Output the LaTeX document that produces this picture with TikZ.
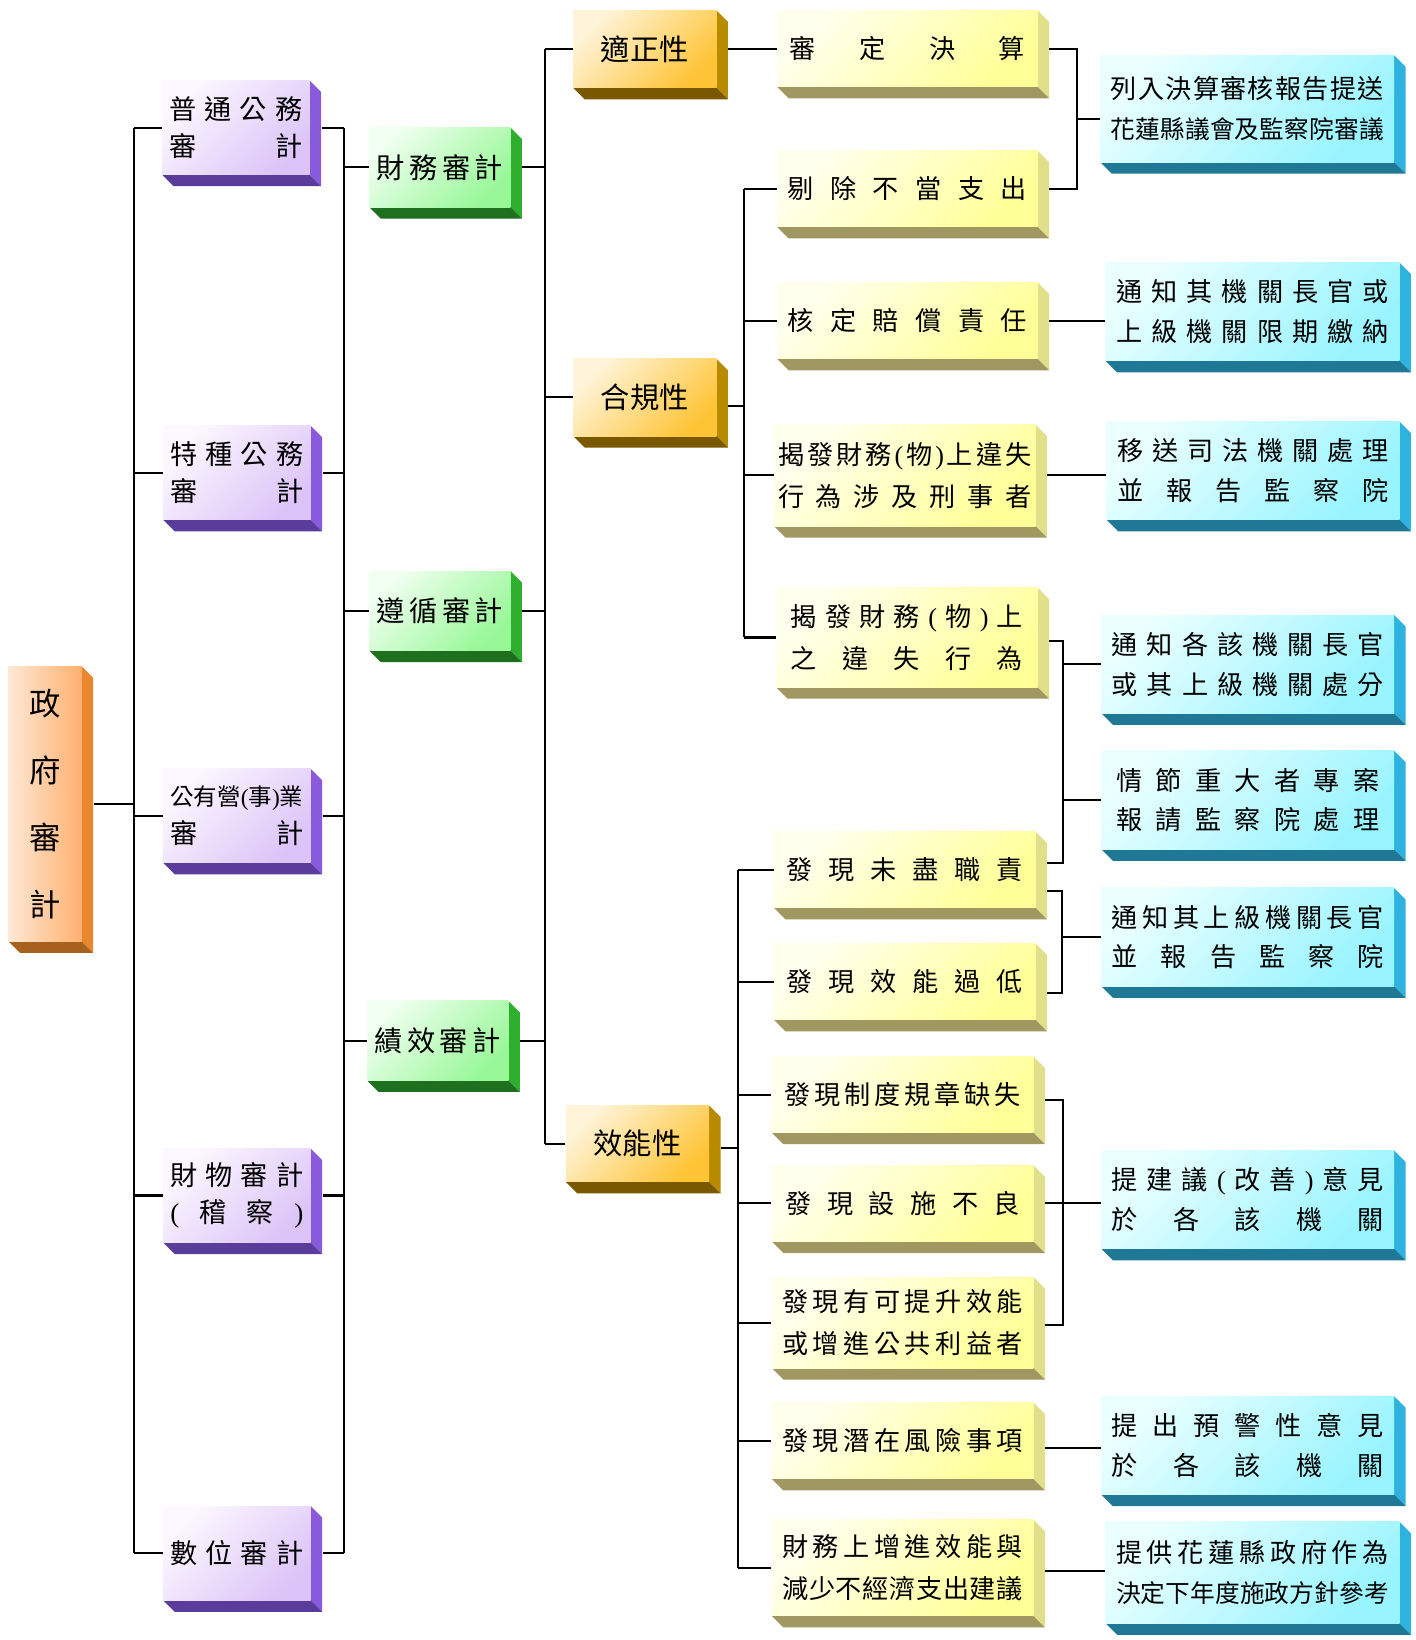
\documentclass[tikz,border=0pt]{standalone}
\usepackage{fontspec}
\setmainfont{Noto Sans CJK TC}
\newfontfamily\pfont{Liberation Serif}
\usetikzlibrary{calc}
\newlength\tw
\newlength\bw
\newlength\bh
\def\spr#1{\sprA#1\sprEnd}
\def\sprA#1#2\sprEnd{#1\ifx\relax#2\relax\else\hfill\sprA#2\sprEnd\fi}
\newcommand\Ln[1]{\hbox to\tw{\spr{#1}}}
\newcommand\Lf[2]{\hbox to\tw{\fontsize{#1}{19}\selectfont\spr{#2}}}
\newcommand\Cn[1]{\hbox to\tw{\hfil#1\hfil}}
\def\lp{{\pfont(}}
\def\rp{{\pfont)}}
\def\dd{11}
\definecolor{gA}{HTML}{FFE8D4}\definecolor{gB}{HTML}{FFB070}\definecolor{gS}{HTML}{E8872E}\definecolor{gD}{HTML}{A8601E}
\definecolor{pA}{HTML}{FCF8FF}\definecolor{pB}{HTML}{DCC4F8}\definecolor{pS}{HTML}{8A5ADC}\definecolor{pD}{HTML}{5A3D9A}
\definecolor{nA}{HTML}{F0FFF0}\definecolor{nB}{HTML}{98F898}\definecolor{nS}{HTML}{2EB02E}\definecolor{nD}{HTML}{1E701E}
\definecolor{oA}{HTML}{FFF4DA}\definecolor{oB}{HTML}{FFC436}\definecolor{oS}{HTML}{B88A00}\definecolor{oD}{HTML}{7A5800}
\definecolor{yA}{HTML}{FFFFEE}\definecolor{yB}{HTML}{FFFF98}\definecolor{yS}{HTML}{E0E08A}\definecolor{yD}{HTML}{A09860}
\definecolor{cA}{HTML}{EAFFFF}\definecolor{cB}{HTML}{98F4FF}\definecolor{cS}{HTML}{2EB2E0}\definecolor{cD}{HTML}{1E7896}
\tikzset{
  conn/.style={line width=1pt, black},
  base/.style={inner sep=0pt, text=black, minimum width=\bw, minimum height=\bh},
  govface/.style={base, left color=gA, right color=gB, font=\fontsize{15}{32}\selectfont},
  govside/.style={fill=gS}, govbot/.style={fill=gD},
  purface/.style={base, top color=pA, bottom color=pB, shading angle=45, font=\fontsize{13}{18}\selectfont},
  purside/.style={fill=pS}, purbot/.style={fill=pD},
  grnface/.style={base, top color=nA, bottom color=nB, shading angle=45, font=\fontsize{13.5}{18}\selectfont},
  grnside/.style={fill=nS}, grnbot/.style={fill=nD},
  orgface/.style={base, top color=oA, bottom color=oB, shading angle=45, font=\fontsize{14}{18}\selectfont},
  orgside/.style={fill=oS}, orgbot/.style={fill=oD},
  yelface/.style={base, top color=yA, bottom color=yB, shading angle=45, font=\fontsize{12.5}{20}\selectfont},
  yelside/.style={fill=yS}, yelbot/.style={fill=yD},
  cynface/.style={base, top color=cA, bottom color=cB, shading angle=45, font=\fontsize{12.5}{19}\selectfont},
  cynside/.style={fill=cS}, cynbot/.style={fill=cD},
}
\newcommand\bx[8]{%
  \fill[#6side] (#4,#3) -- (#4+\dd,#3+\dd) -- (#4+\dd,#5+\dd) -- (#4,#5) -- cycle;
  \fill[#6bot] (#2,#5) -- (#4,#5) -- (#4+\dd,#5+\dd) -- (#2+\dd,#5+\dd) -- cycle;
  \pgfmathsetlength{\tw}{(#4-#2-2*#7)*0.5pt}%
  \pgfmathsetlength{\bw}{(#4-#2)*0.5pt}%
  \pgfmathsetlength{\bh}{(#5-#3)*0.5pt}%
  \node[#6face] (#1) at ({(#2+#4)/2},{(#3+#5)/2}) {\vbox{#8}};
  \coordinate (#1-r) at ([xshift=\dd*0.5pt]#1.east);
}
\begin{document}
\begin{tikzpicture}[x=0.5pt,y=-0.5pt]
\useasboundingbox[fill=white] (0,0) rectangle (1353,1568);
% level 0
\bx{gov}{8}{637}{78}{900}{gov}{0}{\Cn{政}\Cn{府}\Cn{審}\Cn{計}}
% level 1
\bx{pu}{155}{77}{296}{167}{pur}{7}{\Ln{普通公務}\Ln{審計}}
\bx{tz}{156}{407}{297}{497}{pur}{7}{\Ln{特種公務}\Ln{審計}}
\bx{gy}{156}{735}{297}{825}{pur}{7}{\Lf{11.2}{公有營\lp 事\rp 業}\Ln{審計}}
\bx{cw}{156}{1098}{297}{1188}{pur}{7}{\Ln{財物審計}\Ln{\lp 稽察\rp}}
\bx{sw}{156}{1440}{297}{1530}{pur}{7}{\Ln{數位審計}}
% level 2
\bx{cwsj}{353}{122}{488}{198}{grn}{7}{\Ln{財務審計}}
\bx{zx}{353}{546}{488}{622}{grn}{7}{\Ln{遵循審計}}
\bx{jx}{351}{957}{486}{1033}{grn}{7}{\Ln{績效審計}}
% level 3
\bx{szx}{548}{10}{685}{84}{org}{0}{\Cn{適正性}}
\bx{hg}{548}{343}{685}{417}{org}{0}{\Cn{合規性}}
\bx{xn}{541}{1057}{678}{1130}{org}{0}{\Cn{效能性}}
% level 4
\bx{sd}{743}{10}{992}{83}{yel}{12}{\Ln{審定決算}}
\bx{tc}{743}{144}{992}{217}{yel}{10}{\Ln{剔除不當支出}}
\bx{hd}{743}{270}{992}{343}{yel}{10}{\Ln{核定賠償責任}}
\bx{jf1}{740}{406}{990}{503}{yel}{4}{\Ln{揭發財務\lp 物\rp 上違失}\Ln{行為涉及刑事者}}
\bx{jf2}{742}{562}{992}{657}{yel}{14}{\Ln{揭發財務\lp 物\rp 上}\Ln{之違失行為}}
\bx{wj}{740}{795}{990}{868}{yel}{12}{\Ln{發現未盡職責}}
\bx{xd}{740}{902}{990}{975}{yel}{12}{\Ln{發現效能過低}}
\bx{zd}{738}{1010}{988}{1083}{yel}{12}{\Ln{發現制度規章缺失}}
\bx{ss}{738}{1114}{988}{1187}{yel}{13}{\Ln{發現設施不良}}
\bx{ts}{738}{1221}{988}{1308}{yel}{10}{\Ln{發現有可提升效能}\Ln{或增進公共利益者}}
\bx{qz}{738}{1341}{988}{1414}{yel}{10}{\Ln{發現潛在風險事項}}
\bx{zw}{738}{1453}{988}{1545}{yel}{10}{\Ln{財務上增進效能與}\Ln{減少不經濟支出建議}}
% level 5
\bx{lr}{1052}{53}{1333}{155}{cyn}{10}{\Ln{列入決算審核報告提送}\Lf{11.8}{花蓮縣議會及監察院審議}}
\bx{tzg}{1057}{251}{1338}{345}{cyn}{10}{\Ln{通知其機關長官或}\Ln{上級機關限期繳納}}
\bx{ys}{1058}{403}{1338}{497}{cyn}{10}{\Ln{移送司法機關處理}\Ln{並報告監察院}}
\bx{tz1}{1053}{588}{1333}{682}{cyn}{10}{\Ln{通知各該機關長官}\Ln{或其上級機關處分}}
\bx{qj}{1053}{718}{1333}{812}{cyn}{14}{\Ln{情節重大者專案}\Ln{報請監察院處理}}
\bx{tsj}{1053}{849}{1333}{943}{cyn}{10}{\Ln{通知其上級機關長官}\Ln{並報告監察院}}
\bx{jy}{1053}{1100}{1333}{1194}{cyn}{10}{\Ln{提建議\lp 改善\rp 意見}\Ln{於各該機關}}
\bx{yj}{1053}{1335}{1333}{1429}{cyn}{10}{\Ln{提出預警性意見}\Ln{於各該機關}}
\bx{tg}{1057}{1455}{1338}{1552}{cyn}{10}{\Ln{提供花蓮縣政府作為}\Lf{11.8}{決定下年度施政方針參考}}
% trunk positions
\coordinate (T1) at (128,0);
\coordinate (T2) at (329,0);
\coordinate (T3) at (521,0);
\coordinate (T4) at (711,0);
\coordinate (T5) at (706,0);
\coordinate (T6) at (1030,0);
\coordinate (T7) at (1016,0);
\coordinate (T8) at (1015,0);
\coordinate (T9) at (1016,0);
% gov -> level 1
\draw[conn] (gov-r) -- (gov-r -| T1);
\draw[conn] (pu.west -| T1) -- (sw.west -| T1);
\foreach \c in {pu,tz,gy,cw,sw} \draw[conn] (\c.west) -- (\c.west -| T1);
% level 1 -> level 2
\foreach \c in {pu,tz,gy,cw,sw} \draw[conn] (\c-r) -- (\c-r -| T2);
\draw[conn] (pu-r -| T2) -- (sw-r -| T2);
\foreach \c in {cwsj,zx,jx} \draw[conn] (\c.west) -- (\c.west -| T2);
% level 2 -> level 3
\foreach \c in {cwsj,zx,jx} \draw[conn] (\c-r) -- (\c-r -| T3);
\draw[conn] (szx.west -| T3) -- (xn.west -| T3);
\foreach \c in {szx,hg,xn} \draw[conn] (\c.west) -- (\c.west -| T3);
% level 3 -> level 4
\draw[conn] (szx-r) -- (szx-r -| sd.west);
\draw[conn] ([yshift=-4pt]hg-r) -- ([yshift=-4pt]hg-r -| T4);
\draw[conn] (tc.west -| T4) -- (jf2.west -| T4);
\foreach \c in {tc,hd,jf1,jf2} \draw[conn] (\c.west) -- (\c.west -| T4);
\draw[conn] ([yshift=-2pt]xn-r) -- ([yshift=-2pt]xn-r -| T5);
\draw[conn] (wj.west -| T5) -- (zw.west -| T5);
\foreach \c in {wj,xd,zd,ss,ts,qz,zw} \draw[conn] (\c.west) -- (\c.west -| T5);
% level 4 -> level 5
\draw[conn] (sd-r) -- (sd-r -| T6) -- (tc-r -| T6) -- (tc-r);
\coordinate (m6) at ($(sd-r -| T6)!0.5!(tc-r -| T6)$);
\draw[conn] (m6) -- (m6 -| lr.west);
\draw[conn] (hd-r) -- (hd-r -| tzg.west);
\draw[conn] (jf1-r) -- (jf1-r -| ys.west);
\draw[conn] ([yshift=-1.5pt]jf2-r) -- ([yshift=-1.5pt]jf2-r -| T7) -- ([yshift=3.25pt]wj-r -| T7) -- ([yshift=3.25pt]wj-r);
\draw[conn] (tz1.west -| T7) -- (tz1.west);
\draw[conn] (qj.west -| T7) -- (qj.west);
\draw[conn] ([yshift=-10pt]wj-r) -- ([yshift=-10pt]wj-r -| T8) -- ([yshift=-5.5pt]xd-r -| T8) -- ([yshift=-5.5pt]xd-r);
\draw[conn] (tsj.west -| T8) -- (tsj.west);
\draw[conn] ([yshift=-2.5pt]zd-r) -- ([yshift=-2.5pt]zd-r -| T9) -- ([yshift=-1pt]ts-r -| T9) -- ([yshift=-1pt]ts-r);
\draw[conn] (ss-r) -- (ss-r -| jy.west);
\draw[conn] ([yshift=-3.5pt]qz-r) -- ([yshift=-3.5pt]qz-r -| yj.west);
\draw[conn] ([yshift=-1.5pt]zw-r) -- ([yshift=-1.5pt]zw-r -| tg.west);
\end{tikzpicture}
\end{document}
